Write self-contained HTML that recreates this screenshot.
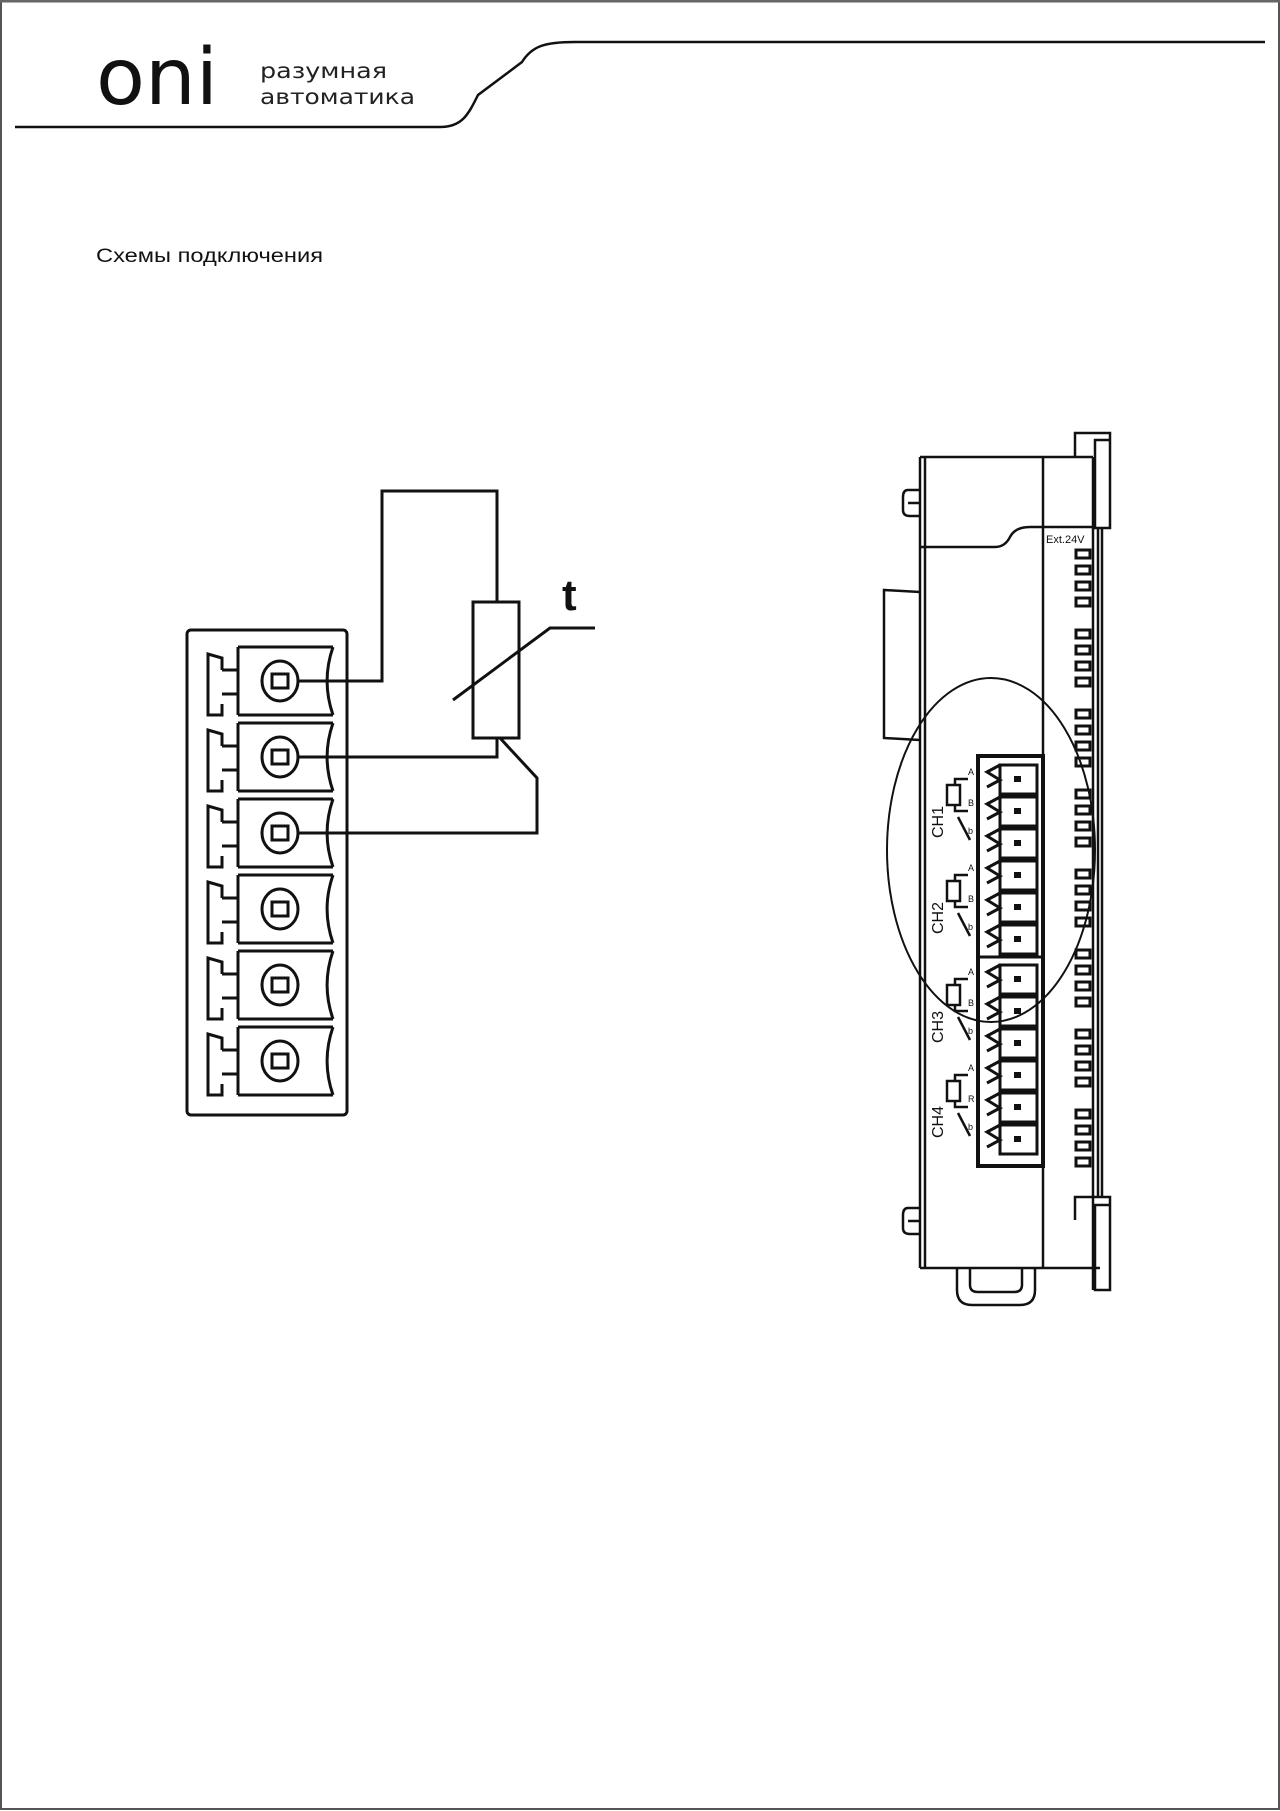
<!DOCTYPE html>
<html><head><meta charset="utf-8"><style>
html,body{margin:0;padding:0;background:#fff}
body{width:1280px;height:1811px;position:relative;overflow:hidden;font-family:"Liberation Sans",sans-serif}
</style></head><body>
<svg width="1280" height="1811" viewBox="0 0 1280 1811" xmlns="http://www.w3.org/2000/svg" style="position:absolute;left:0;top:0">
<rect x="1" y="1" width="1278" height="1808" fill="none" stroke="#555" stroke-width="2"/>
<line x1="0" y1="1" x2="1280" y2="1" stroke="#666" stroke-width="3"/>
<path d="M15 127 L440 127 C462 127 468 115 478 95 L522 62 C532 46 545 42 575 42 L1265 42" fill="none" stroke="#111" stroke-width="2.5"/>
<text x="96" y="104" font-family="DejaVu Sans, sans-serif" font-size="78" fill="#111" textLength="122" lengthAdjust="spacingAndGlyphs">oni</text>
<text x="260" y="78" font-family="DejaVu Sans, sans-serif" font-size="21" fill="#222" textLength="127" lengthAdjust="spacingAndGlyphs">разумная</text>
<text x="260" y="104" font-family="DejaVu Sans, sans-serif" font-size="21" fill="#222" textLength="155" lengthAdjust="spacingAndGlyphs">автоматика</text>
<text x="96" y="262" font-family="Liberation Sans, sans-serif" font-size="19" fill="#111" textLength="227" lengthAdjust="spacingAndGlyphs">Схемы подключения</text>

<g fill="none" stroke="#111" stroke-width="3">
<rect x="187" y="630" width="160" height="485" rx="4"/>
<g><path d="M238 647 H333 M238 715 H333 M238 647 V670 H222 M238 715 V694 H222 M222 670 V658 L208 654 V715 H222 V704 M333 647 C325 670 325 692 333 715"/><ellipse cx="280" cy="681" rx="18" ry="20"/><rect x="272" y="674" width="16" height="14"/><line x1="238" y1="647" x2="238" y2="715"/></g>
<g transform="translate(0,76)"><path d="M238 647 H333 M238 715 H333 M238 647 V670 H222 M238 715 V694 H222 M222 670 V658 L208 654 V715 H222 V704 M333 647 C325 670 325 692 333 715"/><ellipse cx="280" cy="681" rx="18" ry="20"/><rect x="272" y="674" width="16" height="14"/><line x1="238" y1="647" x2="238" y2="715"/></g>
<g transform="translate(0,152)"><path d="M238 647 H333 M238 715 H333 M238 647 V670 H222 M238 715 V694 H222 M222 670 V658 L208 654 V715 H222 V704 M333 647 C325 670 325 692 333 715"/><ellipse cx="280" cy="681" rx="18" ry="20"/><rect x="272" y="674" width="16" height="14"/><line x1="238" y1="647" x2="238" y2="715"/></g>
<g transform="translate(0,228)"><path d="M238 647 H333 M238 715 H333 M238 647 V670 H222 M238 715 V694 H222 M222 670 V658 L208 654 V715 H222 V704 M333 647 C325 670 325 692 333 715"/><ellipse cx="280" cy="681" rx="18" ry="20"/><rect x="272" y="674" width="16" height="14"/><line x1="238" y1="647" x2="238" y2="715"/></g>
<g transform="translate(0,304)"><path d="M238 647 H333 M238 715 H333 M238 647 V670 H222 M238 715 V694 H222 M222 670 V658 L208 654 V715 H222 V704 M333 647 C325 670 325 692 333 715"/><ellipse cx="280" cy="681" rx="18" ry="20"/><rect x="272" y="674" width="16" height="14"/><line x1="238" y1="647" x2="238" y2="715"/></g>
<g transform="translate(0,380)"><path d="M238 647 H333 M238 715 H333 M238 647 V670 H222 M238 715 V694 H222 M222 670 V658 L208 654 V715 H222 V704 M333 647 C325 670 325 692 333 715"/><ellipse cx="280" cy="681" rx="18" ry="20"/><rect x="272" y="674" width="16" height="14"/><line x1="238" y1="647" x2="238" y2="715"/></g>
<path d="M298 681 H382 V491 H497 V602"/>
<rect x="473" y="602" width="46" height="136"/>
<path d="M453 700 L550 628 H595"/>
<path d="M497 738 V757 H298"/>
<path d="M500 738 L537 778 V833 H298"/>
</g>
<text x="562" y="610" font-family="Liberation Sans, sans-serif" font-weight="bold" font-size="44" fill="#111">t</text>

<g fill="none" stroke="#111" stroke-width="2.5">
<path d="M920 457 H1093 M920 457 V1268 M925 457 V1268 M920 1268 H1100"/>
<line x1="1043" y1="457" x2="1043" y2="1268"/>
<path d="M920 547 H995 Q1005 547 1010 537 Q1015 527 1030 527 H1095"/>
<path d="M1075 457 V433 H1110 V528 H1095 V440 H1110"/>
<path d="M1075 1220 V1197 H1110 V1290 H1095 V1205 H1110"/>
<line x1="1098" y1="528" x2="1098" y2="1197"/>
<line x1="1102" y1="528" x2="1102" y2="1197"/>
<line x1="1093" y1="457" x2="1093" y2="1290"/>
<path d="M920 592 L884 590 V738 L920 740"/>
<path d="M920 490 H908 Q903 490 903 497 V510 Q903 516 910 516 H920 M908 503 H920"/>
<path d="M920 1208 H908 Q903 1208 903 1215 V1228 Q903 1234 910 1234 H920 M908 1221 H920"/>
<path d="M957 1268 V1290 Q957 1305 972 1305 H1020 Q1035 1305 1035 1290 V1268 M970 1268 V1285 Q970 1292 978 1292 H1014 Q1022 1292 1022 1285 V1268"/>
<ellipse cx="991" cy="850" rx="104" ry="172" stroke-width="2"/>
<rect x="978" y="756" width="65" height="410" stroke-width="4"/>
<line x1="978" y1="957" x2="1043" y2="957" stroke-width="3"/>
</g>
<g stroke="#111" fill="none" stroke-width="3">
<g><rect x="1000" y="765" width="37" height="29"/><path d="M1000 765 L987 772 L1000 780 L987 787"/></g>
<g transform="translate(0,32)"><rect x="1000" y="765" width="37" height="29"/><path d="M1000 765 L987 772 L1000 780 L987 787"/></g>
<g transform="translate(0,64)"><rect x="1000" y="765" width="37" height="29"/><path d="M1000 765 L987 772 L1000 780 L987 787"/></g>
<g transform="translate(0,96)"><rect x="1000" y="765" width="37" height="29"/><path d="M1000 765 L987 772 L1000 780 L987 787"/></g>
<g transform="translate(0,128)"><rect x="1000" y="765" width="37" height="29"/><path d="M1000 765 L987 772 L1000 780 L987 787"/></g>
<g transform="translate(0,160)"><rect x="1000" y="765" width="37" height="29"/><path d="M1000 765 L987 772 L1000 780 L987 787"/></g>
<g transform="translate(0,200)"><rect x="1000" y="765" width="37" height="29"/><path d="M1000 765 L987 772 L1000 780 L987 787"/></g>
<g transform="translate(0,232)"><rect x="1000" y="765" width="37" height="29"/><path d="M1000 765 L987 772 L1000 780 L987 787"/></g>
<g transform="translate(0,264)"><rect x="1000" y="765" width="37" height="29"/><path d="M1000 765 L987 772 L1000 780 L987 787"/></g>
<g transform="translate(0,296)"><rect x="1000" y="765" width="37" height="29"/><path d="M1000 765 L987 772 L1000 780 L987 787"/></g>
<g transform="translate(0,328)"><rect x="1000" y="765" width="37" height="29"/><path d="M1000 765 L987 772 L1000 780 L987 787"/></g>
<g transform="translate(0,360)"><rect x="1000" y="765" width="37" height="29"/><path d="M1000 765 L987 772 L1000 780 L987 787"/></g>
</g>
<g fill="#111">
<rect x="1014" y="776" width="7" height="6"/><rect x="1014" y="808" width="7" height="6"/><rect x="1014" y="840" width="7" height="6"/><rect x="1014" y="872" width="7" height="6"/><rect x="1014" y="904" width="7" height="6"/><rect x="1014" y="936" width="7" height="6"/>
<rect x="1014" y="976" width="7" height="6"/><rect x="1014" y="1008" width="7" height="6"/><rect x="1014" y="1040" width="7" height="6"/><rect x="1014" y="1072" width="7" height="6"/><rect x="1014" y="1104" width="7" height="6"/><rect x="1014" y="1136" width="7" height="6"/>
</g>
<g stroke="#111" fill="none" stroke-width="2.5">
<g><rect x="947" y="785" width="13" height="20"/><path d="M955 785 V779 H968 M955 805 V811 H968 M958 817 L970 840"/></g>
<g transform="translate(0,96)"><rect x="947" y="785" width="13" height="20"/><path d="M955 785 V779 H968 M955 805 V811 H968 M958 817 L970 840"/></g>
<g transform="translate(0,200)"><rect x="947" y="785" width="13" height="20"/><path d="M955 785 V779 H968 M955 805 V811 H968 M958 817 L970 840"/></g>
<g transform="translate(0,296)"><rect x="947" y="785" width="13" height="20"/><path d="M955 785 V779 H968 M955 805 V811 H968 M958 817 L970 840"/></g>
</g>
<g font-family="Liberation Sans, sans-serif" font-size="9" fill="#111">
<text x="968" y="775">A</text><text x="968" y="806">B</text><text x="968" y="834">b</text>
<text x="968" y="871">A</text><text x="968" y="902">B</text><text x="968" y="930">b</text>
<text x="968" y="975">A</text><text x="968" y="1006">B</text><text x="968" y="1034">b</text>
<text x="968" y="1071">A</text><text x="968" y="1102">R</text><text x="968" y="1130">b</text>
<text x="1046" y="543" font-size="11">Ext.24V</text>
</g>
<g font-family="Liberation Sans, sans-serif" font-size="16" fill="#111">
<text transform="translate(943,838) rotate(-90)">CH1</text>
<text transform="translate(943,934) rotate(-90)">CH2</text>
<text transform="translate(943,1043) rotate(-90)">CH3</text>
<text transform="translate(943,1138) rotate(-90)">CH4</text>
</g>
<g fill="none" stroke="#111" stroke-width="3">
<rect x="1076" y="550" width="14" height="8"/><rect x="1076" y="566" width="14" height="8"/><rect x="1076" y="582" width="14" height="8"/><rect x="1076" y="598" width="14" height="8"/>
<rect x="1076" y="630" width="14" height="8"/><rect x="1076" y="646" width="14" height="8"/><rect x="1076" y="662" width="14" height="8"/><rect x="1076" y="678" width="14" height="8"/>
<rect x="1076" y="710" width="14" height="8"/><rect x="1076" y="726" width="14" height="8"/><rect x="1076" y="742" width="14" height="8"/><rect x="1076" y="758" width="14" height="8"/>
<rect x="1076" y="790" width="14" height="8"/><rect x="1076" y="806" width="14" height="8"/><rect x="1076" y="822" width="14" height="8"/><rect x="1076" y="838" width="14" height="8"/>
<rect x="1076" y="870" width="14" height="8"/><rect x="1076" y="886" width="14" height="8"/><rect x="1076" y="902" width="14" height="8"/><rect x="1076" y="918" width="14" height="8"/>
<rect x="1076" y="950" width="14" height="8"/><rect x="1076" y="966" width="14" height="8"/><rect x="1076" y="982" width="14" height="8"/><rect x="1076" y="998" width="14" height="8"/>
<rect x="1076" y="1030" width="14" height="8"/><rect x="1076" y="1046" width="14" height="8"/><rect x="1076" y="1062" width="14" height="8"/><rect x="1076" y="1078" width="14" height="8"/>
<rect x="1076" y="1110" width="14" height="8"/><rect x="1076" y="1126" width="14" height="8"/><rect x="1076" y="1142" width="14" height="8"/><rect x="1076" y="1158" width="14" height="8"/>
</g>
</svg>
</body></html>
